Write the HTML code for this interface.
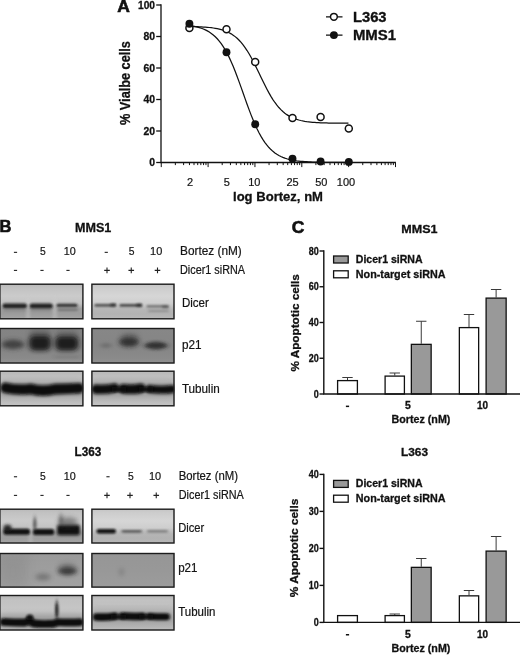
<!DOCTYPE html>
<html><head><meta charset="utf-8"><title>Figure</title>
<style>
html,body{margin:0;padding:0;background:#fff;}
body{width:520px;height:656px;overflow:hidden;}
svg{display:block;}
text{font-family:"Liberation Sans",sans-serif;fill:#111;}
.b{font-weight:bold;stroke:#111;stroke-width:.3px;}
.r{stroke:#222;stroke-width:.22px;}
.pl{font-weight:bold;stroke:#111;stroke-width:.6px;}
</style></head><body>
<svg width="520" height="656" viewBox="0 0 520 656">
<defs>
<filter id="bl1" x="-20%" y="-150%" width="140%" height="400%"><feGaussianBlur stdDeviation="1.2 0.9"/></filter>
<filter id="bl2" x="-30%" y="-100%" width="160%" height="300%"><feGaussianBlur stdDeviation="2.4 2.2"/></filter>
<filter id="bl3" x="-20%" y="-100%" width="140%" height="300%"><feGaussianBlur stdDeviation="1.6 1.4"/></filter>
<filter id="bl4" x="-30%" y="-30%" width="160%" height="160%"><feGaussianBlur stdDeviation="4"/></filter>
</defs>
<rect width="520" height="656" fill="#fff"/>

<g id="panelA">
<text x="117.3" y="12.4" font-size="17" class="pl" textLength="12.6" lengthAdjust="spacingAndGlyphs">A</text>
<path d="M161.0 4.3 V162.5 M160.4 162.5 H395.9" fill="none" stroke="#111" stroke-width="1.3"/>
<path d="M156.2 162.5 H161.0" stroke="#111" stroke-width="1.3"/>
<text x="149.2" y="166.3" font-size="11.3" class="b" textLength="5.8" lengthAdjust="spacingAndGlyphs">0</text>
<path d="M156.2 131 H161.0" stroke="#111" stroke-width="1.3"/>
<text x="143.4" y="134.8" font-size="11.3" class="b" textLength="11.6" lengthAdjust="spacingAndGlyphs">20</text>
<path d="M156.2 99.5 H161.0" stroke="#111" stroke-width="1.3"/>
<text x="143.4" y="103.3" font-size="11.3" class="b" textLength="11.6" lengthAdjust="spacingAndGlyphs">40</text>
<path d="M156.2 68 H161.0" stroke="#111" stroke-width="1.3"/>
<text x="143.4" y="71.8" font-size="11.3" class="b" textLength="11.6" lengthAdjust="spacingAndGlyphs">60</text>
<path d="M156.2 36.5 H161.0" stroke="#111" stroke-width="1.3"/>
<text x="143.4" y="40.3" font-size="11.3" class="b" textLength="11.6" lengthAdjust="spacingAndGlyphs">80</text>
<path d="M156.2 5 H161.0" stroke="#111" stroke-width="1.3"/>
<text x="138" y="8.8" font-size="11.3" class="b" textLength="17" lengthAdjust="spacingAndGlyphs">100</text>
<path d="M161.25 162.5 v4.6 M175.35 162.5 v2.6 M183.6 162.5 v2.6 M189.46 162.5 v2.6 M194 162.5 v2.6 M197.71 162.5 v2.6 M200.84 162.5 v2.6 M203.56 162.5 v2.6 M205.96 162.5 v2.6 M208.1 162.5 v4.6 M222.2 162.5 v2.6 M230.45 162.5 v2.6 M236.31 162.5 v2.6 M240.85 162.5 v2.6 M244.56 162.5 v2.6 M247.69 162.5 v2.6 M250.41 162.5 v2.6 M252.81 162.5 v2.6 M254.95 162.5 v4.6 M269.05 162.5 v2.6 M277.3 162.5 v2.6 M283.16 162.5 v2.6 M287.7 162.5 v2.6 M291.41 162.5 v2.6 M294.54 162.5 v2.6 M297.26 162.5 v2.6 M299.66 162.5 v2.6 M301.8 162.5 v4.6 M315.9 162.5 v2.6 M324.15 162.5 v2.6 M330.01 162.5 v2.6 M334.55 162.5 v2.6 M338.26 162.5 v2.6 M341.39 162.5 v2.6 M344.11 162.5 v2.6 M346.51 162.5 v2.6 M348.65 162.5 v4.6 M362.75 162.5 v2.6 M371 162.5 v2.6 M376.86 162.5 v2.6 M381.4 162.5 v2.6 M385.11 162.5 v2.6 M388.24 162.5 v2.6 M390.96 162.5 v2.6 M393.36 162.5 v2.6 M395.5 162.5 v4.6 " stroke="#111" stroke-width="1" fill="none"/>
<text x="190" y="185.8" font-size="11" class="r" text-anchor="middle">2</text>
<text x="226.75" y="185.8" font-size="11" class="r" text-anchor="middle">5</text>
<text x="254.25" y="185.8" font-size="11" class="r" text-anchor="middle">10</text>
<text x="292.5" y="185.8" font-size="11" class="r" text-anchor="middle">25</text>
<text x="321.3" y="185.8" font-size="11" class="r" text-anchor="middle">50</text>
<text x="346" y="185.8" font-size="11" class="r" text-anchor="middle">100</text>
<text x="233" y="201.25" font-size="13.3" class="b" textLength="90" lengthAdjust="spacingAndGlyphs">log Bortez, nM</text>
<text class="b" transform="translate(129.6,125) rotate(-90)" font-size="13.8" textLength="83.9" lengthAdjust="spacingAndGlyphs">% Vialbe cells</text>
<polyline points="189.43,26.49 191.41,26.53 193.4,26.58 195.39,26.64 197.38,26.71 199.37,26.79 201.35,26.89 203.34,27.01 205.33,27.14 207.32,27.31 209.3,27.5 211.29,27.73 213.28,28 215.27,28.31 217.26,28.69 219.24,29.12 221.23,29.64 223.22,30.24 225.21,30.95 227.19,31.78 229.18,32.74 231.17,33.85 233.16,35.14 235.15,36.62 237.13,38.31 239.12,40.24 241.11,42.41 243.1,44.85 245.08,47.56 247.07,50.54 249.06,53.79 251.05,57.28 253.04,61 255.02,64.9 257.01,68.94 259,73.06 260.99,77.21 262.97,81.32 264.96,85.34 266.95,89.22 268.94,92.9 270.93,96.35 272.91,99.55 274.9,102.48 276.89,105.14 278.88,107.53 280.86,109.66 282.85,111.55 284.84,113.2 286.83,114.65 288.82,115.9 290.8,116.99 292.79,117.92 294.78,118.73 296.77,119.41 298.76,120 300.74,120.5 302.73,120.93 304.72,121.29 306.71,121.6 308.69,121.86 310.68,122.08 312.67,122.27 314.66,122.43 316.65,122.56 318.63,122.67 320.62,122.77 322.61,122.85 324.6,122.92 326.58,122.97 328.57,123.02 330.56,123.06 332.55,123.1 334.54,123.13 336.52,123.15 338.51,123.17 340.5,123.19 342.49,123.2 344.47,123.22 346.46,123.23 348.45,123.24" fill="none" stroke="#111" stroke-width="1.25"/>
<polyline points="189.43,25.58 191.41,25.87 193.4,26.21 195.39,26.62 197.38,27.08 199.37,27.63 201.35,28.27 203.34,29.02 205.33,29.88 207.32,30.89 209.3,32.05 211.29,33.39 213.28,34.94 215.27,36.71 217.26,38.73 219.24,41.03 221.23,43.63 223.22,46.55 225.21,49.8 227.19,53.41 229.18,57.37 231.17,61.67 233.16,66.31 235.15,71.25 237.13,76.44 239.12,81.85 241.11,87.4 243.1,93.03 245.08,98.66 247.07,104.22 249.06,109.64 251.05,114.85 253.04,119.81 255.02,124.46 257.01,128.79 259,132.77 260.99,136.39 262.97,139.67 264.96,142.61 266.95,145.23 268.94,147.54 270.93,149.58 272.91,151.36 274.9,152.92 276.89,154.28 278.88,155.45 280.86,156.46 282.85,157.34 284.84,158.09 286.83,158.73 288.82,159.29 290.8,159.76 292.79,160.16 294.78,160.51 296.77,160.81 298.76,161.06 300.74,161.27 302.73,161.46 304.72,161.61 306.71,161.74 308.69,161.86 310.68,161.95 312.67,162.04 314.66,162.1 316.65,162.16 318.63,162.21 320.62,162.26 322.61,162.29 324.6,162.32 326.58,162.35 328.57,162.37 330.56,162.39 332.55,162.41 334.54,162.42 336.52,162.43 338.51,162.44 340.5,162.45 342.49,162.46 344.47,162.47 346.46,162.47 348.45,162.48" fill="none" stroke="#111" stroke-width="1.25"/>
<circle cx="189.4" cy="27.9" r="3.5" fill="#fff" stroke="#111" stroke-width="1.5"/>
<circle cx="226.5" cy="29.2" r="3.5" fill="#fff" stroke="#111" stroke-width="1.5"/>
<circle cx="255.2" cy="61.9" r="3.5" fill="#fff" stroke="#111" stroke-width="1.5"/>
<circle cx="292.5" cy="117.9" r="3.5" fill="#fff" stroke="#111" stroke-width="1.5"/>
<circle cx="320.6" cy="116.9" r="3.5" fill="#fff" stroke="#111" stroke-width="1.5"/>
<circle cx="348.8" cy="128.5" r="3.5" fill="#fff" stroke="#111" stroke-width="1.5"/>
<circle cx="189.4" cy="23.8" r="3.95" fill="#111"/>
<circle cx="226.5" cy="52.3" r="3.95" fill="#111"/>
<circle cx="255.2" cy="124.3" r="3.95" fill="#111"/>
<circle cx="292.5" cy="158.7" r="3.95" fill="#111"/>
<circle cx="320.6" cy="161.5" r="3.95" fill="#111"/>
<circle cx="348.8" cy="161.9" r="3.95" fill="#111"/>
<path d="M326 16.8 H342.5 M326 35.1 H342.5" stroke="#111" stroke-width="1.3"/>
<circle cx="333.9" cy="16.8" r="3.4" fill="#fff" stroke="#111" stroke-width="1.5"/>
<circle cx="333.9" cy="35.1" r="3.95" fill="#111"/>
<text x="352.9" y="21.7" font-size="14.5" class="b" textLength="33.7" lengthAdjust="spacingAndGlyphs">L363</text>
<text x="352.9" y="39.9" font-size="14.5" class="b" textLength="43.2" lengthAdjust="spacingAndGlyphs">MMS1</text>
</g>
<g id="panelB">
<text x="-0.5" y="232" font-size="16.5" class="pl">B</text>
<text x="75" y="232" font-size="12.5" class="b" textLength="36.25" lengthAdjust="spacingAndGlyphs">MMS1</text>
<text x="74.5" y="456.25" font-size="12.5" class="b" textLength="26.75" lengthAdjust="spacingAndGlyphs">L363</text>
<rect x="13.9" y="251.8" width="3.2" height="1.1" fill="#222"/>
<text x="40.02" y="255.4" font-size="11.6" class="r" textLength="5.75" lengthAdjust="spacingAndGlyphs">5</text>
<text x="63.75" y="255.4" font-size="11.6" class="r" textLength="12" lengthAdjust="spacingAndGlyphs">10</text>
<rect x="104.65" y="251.8" width="3.2" height="1.1" fill="#222"/>
<text x="128.72" y="255.4" font-size="11.6" class="r" textLength="5.75" lengthAdjust="spacingAndGlyphs">5</text>
<text x="150.1" y="255.4" font-size="11.6" class="r" textLength="12.2" lengthAdjust="spacingAndGlyphs">10</text>
<text x="180" y="255.4" font-size="12" class="r" textLength="61.75" lengthAdjust="spacingAndGlyphs">Bortez (nM)</text>
<rect x="13.9" y="269.85" width="3.2" height="1.1" fill="#222"/>
<rect x="40.4" y="269.85" width="3.2" height="1.1" fill="#222"/>
<rect x="66.4" y="269.85" width="3.2" height="1.1" fill="#222"/>
<path d="M104.2 270.35 h5.6 M107 267.55 v5.6" stroke="#222" stroke-width="1.1" fill="none"/>
<path d="M128.45 270.35 h5.6 M131.25 267.55 v5.6" stroke="#222" stroke-width="1.1" fill="none"/>
<path d="M154.7 270.35 h5.6 M157.5 267.55 v5.6" stroke="#222" stroke-width="1.1" fill="none"/>
<text x="180" y="273.75" font-size="12" class="r" textLength="65" lengthAdjust="spacingAndGlyphs">Dicer1 siRNA</text>
<rect x="13.9" y="476.2" width="3.2" height="1.1" fill="#222"/>
<text x="40.02" y="479.8" font-size="11.6" class="r" textLength="5.75" lengthAdjust="spacingAndGlyphs">5</text>
<text x="63.75" y="479.8" font-size="11.6" class="r" textLength="12" lengthAdjust="spacingAndGlyphs">10</text>
<rect x="106.4" y="476.2" width="3.2" height="1.1" fill="#222"/>
<text x="128.03" y="479.8" font-size="11.6" class="r" textLength="5.75" lengthAdjust="spacingAndGlyphs">5</text>
<text x="148.9" y="479.8" font-size="11.6" class="r" textLength="12.2" lengthAdjust="spacingAndGlyphs">10</text>
<text x="178.75" y="479.8" font-size="12" class="r" textLength="59.25" lengthAdjust="spacingAndGlyphs">Bortez (nM)</text>
<rect x="13.9" y="494.85" width="3.2" height="1.1" fill="#222"/>
<rect x="40.4" y="494.85" width="3.2" height="1.1" fill="#222"/>
<rect x="66.4" y="494.85" width="3.2" height="1.1" fill="#222"/>
<path d="M104.2 495.35 h5.6 M107 492.55 v5.6" stroke="#222" stroke-width="1.1" fill="none"/>
<path d="M127.2 495.35 h5.6 M130 492.55 v5.6" stroke="#222" stroke-width="1.1" fill="none"/>
<path d="M153.45 495.35 h5.6 M156.25 492.55 v5.6" stroke="#222" stroke-width="1.1" fill="none"/>
<text x="178.75" y="498.75" font-size="12" class="r" textLength="65" lengthAdjust="spacingAndGlyphs">Dicer1 siRNA</text>
<text x="181.9" y="306.6" font-size="12" class="r" textLength="26.9" lengthAdjust="spacingAndGlyphs">Dicer</text>
<text x="181.9" y="348.7" font-size="12" class="r" textLength="19.6" lengthAdjust="spacingAndGlyphs">p21</text>
<text x="181.9" y="392.7" font-size="12" class="r" textLength="37.9" lengthAdjust="spacingAndGlyphs">Tubulin</text>
<text x="178.2" y="531.6" font-size="12" class="r" textLength="26" lengthAdjust="spacingAndGlyphs">Dicer</text>
<text x="178.2" y="572.3" font-size="12" class="r" textLength="19.3" lengthAdjust="spacingAndGlyphs">p21</text>
<text x="178.2" y="616.2" font-size="12" class="r" textLength="37.2" lengthAdjust="spacingAndGlyphs">Tubulin</text>
</g>
<defs><filter id="f1" filterUnits="userSpaceOnUse" x="-20" y="260" width="230" height="400"><feGaussianBlur stdDeviation="1.5 3"/></filter>
<filter id="f2" filterUnits="userSpaceOnUse" x="-20" y="260" width="230" height="400"><feGaussianBlur stdDeviation="1.3 1"/></filter>
<filter id="f3" filterUnits="userSpaceOnUse" x="-20" y="260" width="230" height="400"><feGaussianBlur stdDeviation="1.2 0.9"/></filter>
<filter id="f4" filterUnits="userSpaceOnUse" x="-20" y="260" width="230" height="400"><feGaussianBlur stdDeviation="1.4 0.9"/></filter>
<filter id="f5" filterUnits="userSpaceOnUse" x="-20" y="260" width="230" height="400"><feGaussianBlur stdDeviation="1.5 1"/></filter>
<clipPath id="c1"><rect x="-0.6" y="283.7" width="84" height="35.6"/></clipPath>
<linearGradient id="g1" x1="0" y1="0" x2="0" y2="1"><stop offset="0" stop-color="#b8b8b8"/><stop offset="0.12" stop-color="#c2c2c2"/><stop offset="0.35" stop-color="#cbcbcb"/><stop offset="0.55" stop-color="#c2c2c2"/><stop offset="0.7" stop-color="#a0a0a0"/><stop offset="0.85" stop-color="#9c9c9c"/><stop offset="1" stop-color="#a6a6a6"/></linearGradient>
<filter id="f6" filterUnits="userSpaceOnUse" x="-20" y="260" width="230" height="400"><feGaussianBlur stdDeviation="1.3 0.9"/></filter>
<clipPath id="c2"><rect x="91.4" y="283.7" width="83.1" height="35.6"/></clipPath>
<linearGradient id="g2" x1="0" y1="0" x2="0" y2="1"><stop offset="0" stop-color="#c4c4c4"/><stop offset="0.12" stop-color="#cdcdcd"/><stop offset="0.35" stop-color="#d6d6d6"/><stop offset="0.55" stop-color="#cecece"/><stop offset="0.72" stop-color="#b6b6b6"/><stop offset="0.85" stop-color="#b2b2b2"/><stop offset="1" stop-color="#b8b8b8"/></linearGradient>
<filter id="f7" filterUnits="userSpaceOnUse" x="-20" y="260" width="230" height="400"><feGaussianBlur stdDeviation="2.2 2"/></filter>
<filter id="f8" filterUnits="userSpaceOnUse" x="-20" y="260" width="230" height="400"><feGaussianBlur stdDeviation="2.5 3"/></filter>
<filter id="f9" filterUnits="userSpaceOnUse" x="-20" y="260" width="230" height="400"><feGaussianBlur stdDeviation="2.5 2.3"/></filter>
<filter id="f10" filterUnits="userSpaceOnUse" x="-20" y="260" width="230" height="400"><feGaussianBlur stdDeviation="2 1"/></filter>
<clipPath id="c3"><rect x="-0.6" y="328" width="84" height="35.5"/></clipPath>
<linearGradient id="g3" x1="0" y1="0" x2="0" y2="1"><stop offset="0" stop-color="#848484"/><stop offset="0.5" stop-color="#828282"/><stop offset="0.85" stop-color="#8a8a8a"/><stop offset="1" stop-color="#949494"/></linearGradient>
<filter id="f11" filterUnits="userSpaceOnUse" x="-20" y="260" width="230" height="400"><feGaussianBlur stdDeviation="2 1.8"/></filter>
<filter id="f12" filterUnits="userSpaceOnUse" x="-20" y="260" width="230" height="400"><feGaussianBlur stdDeviation="2.4 2.1"/></filter>
<filter id="f13" filterUnits="userSpaceOnUse" x="-20" y="260" width="230" height="400"><feGaussianBlur stdDeviation="2.5 2.5"/></filter>
<filter id="f14" filterUnits="userSpaceOnUse" x="-20" y="260" width="230" height="400"><feGaussianBlur stdDeviation="2.4 1.8"/></filter>
<clipPath id="c4"><rect x="91.4" y="328" width="83.1" height="35.5"/></clipPath>
<linearGradient id="g4" x1="0" y1="0" x2="0" y2="1"><stop offset="0" stop-color="#878787"/><stop offset="0.5" stop-color="#858585"/><stop offset="0.85" stop-color="#8a8a8a"/><stop offset="1" stop-color="#929292"/></linearGradient>
<filter id="f15" filterUnits="userSpaceOnUse" x="-20" y="260" width="230" height="400"><feGaussianBlur stdDeviation="3 3"/></filter>
<filter id="f16" filterUnits="userSpaceOnUse" x="-20" y="260" width="230" height="400"><feGaussianBlur stdDeviation="1.6 1.5"/></filter>
<clipPath id="c5"><rect x="-0.6" y="370.7" width="84" height="35.6"/></clipPath>
<linearGradient id="g5" x1="0" y1="0" x2="0" y2="1"><stop offset="0" stop-color="#b6b6b6"/><stop offset="0.15" stop-color="#c2c2c2"/><stop offset="0.3" stop-color="#c4c4c4"/><stop offset="0.7" stop-color="#b2b2b2"/><stop offset="0.9" stop-color="#c0c0c0"/><stop offset="1" stop-color="#c2c2c2"/></linearGradient>
<filter id="f17" filterUnits="userSpaceOnUse" x="-20" y="260" width="230" height="400"><feGaussianBlur stdDeviation="1.5 1.3"/></filter>
<clipPath id="c6"><rect x="91.4" y="370.7" width="83.1" height="35.6"/></clipPath>
<linearGradient id="g6" x1="0" y1="0" x2="0" y2="1"><stop offset="0" stop-color="#b6b6b6"/><stop offset="0.15" stop-color="#c2c2c2"/><stop offset="0.3" stop-color="#c4c4c4"/><stop offset="0.7" stop-color="#b2b2b2"/><stop offset="0.9" stop-color="#c0c0c0"/><stop offset="1" stop-color="#c2c2c2"/></linearGradient>
<filter id="f18" filterUnits="userSpaceOnUse" x="-20" y="260" width="230" height="400"><feGaussianBlur stdDeviation="1.3 1.1"/></filter>
<filter id="f19" filterUnits="userSpaceOnUse" x="-20" y="260" width="230" height="400"><feGaussianBlur stdDeviation="1.5 1.5"/></filter>
<filter id="f20" filterUnits="userSpaceOnUse" x="-20" y="260" width="230" height="400"><feGaussianBlur stdDeviation="1.3 2.5"/></filter>
<filter id="f21" filterUnits="userSpaceOnUse" x="-20" y="260" width="230" height="400"><feGaussianBlur stdDeviation="1.5 2.5"/></filter>
<clipPath id="c7"><rect x="-0.6" y="508.7" width="84" height="34.8"/></clipPath>
<linearGradient id="g7" x1="0" y1="0" x2="0" y2="1"><stop offset="0" stop-color="#b8b8b8"/><stop offset="0.12" stop-color="#c2c2c2"/><stop offset="0.35" stop-color="#cbcbcb"/><stop offset="0.55" stop-color="#c2c2c2"/><stop offset="0.7" stop-color="#a0a0a0"/><stop offset="0.85" stop-color="#9c9c9c"/><stop offset="1" stop-color="#a6a6a6"/></linearGradient>
<clipPath id="c8"><rect x="91.4" y="508.7" width="83.1" height="34.8"/></clipPath>
<linearGradient id="g8" x1="0" y1="0" x2="0" y2="1"><stop offset="0" stop-color="#c4c4c4"/><stop offset="0.12" stop-color="#cdcdcd"/><stop offset="0.35" stop-color="#d6d6d6"/><stop offset="0.55" stop-color="#cecece"/><stop offset="0.72" stop-color="#b6b6b6"/><stop offset="0.85" stop-color="#b2b2b2"/><stop offset="1" stop-color="#b8b8b8"/></linearGradient>
<filter id="f22" filterUnits="userSpaceOnUse" x="-20" y="260" width="230" height="400"><feGaussianBlur stdDeviation="6 6"/></filter>
<filter id="f23" filterUnits="userSpaceOnUse" x="-20" y="260" width="230" height="400"><feGaussianBlur stdDeviation="2.4 2"/></filter>
<clipPath id="c9"><rect x="-0.6" y="553" width="84" height="34.6"/></clipPath>
<linearGradient id="g9" x1="0" y1="0" x2="0" y2="1"><stop offset="0" stop-color="#9a9a9a"/><stop offset="0.5" stop-color="#9e9e9e"/><stop offset="1" stop-color="#a2a2a2"/></linearGradient>
<filter id="f24" filterUnits="userSpaceOnUse" x="-20" y="260" width="230" height="400"><feGaussianBlur stdDeviation="2 2"/></filter>
<clipPath id="c10"><rect x="91.4" y="553" width="83.1" height="34.6"/></clipPath>
<linearGradient id="g10" x1="0" y1="0" x2="0" y2="1"><stop offset="0" stop-color="#969696"/><stop offset="0.5" stop-color="#989898"/><stop offset="1" stop-color="#9c9c9c"/></linearGradient>
<filter id="f25" filterUnits="userSpaceOnUse" x="-20" y="260" width="230" height="400"><feGaussianBlur stdDeviation="1.3 1.3"/></filter>
<filter id="f26" filterUnits="userSpaceOnUse" x="-20" y="260" width="230" height="400"><feGaussianBlur stdDeviation="1.2 2.5"/></filter>
<clipPath id="c11"><rect x="-0.6" y="595" width="84" height="35.5"/></clipPath>
<linearGradient id="g11" x1="0" y1="0" x2="0" y2="1"><stop offset="0" stop-color="#b4b4b4"/><stop offset="0.15" stop-color="#c2c2c2"/><stop offset="0.45" stop-color="#c6c6c6"/><stop offset="0.65" stop-color="#b0b0b0"/><stop offset="0.9" stop-color="#b4b4b4"/><stop offset="1" stop-color="#c0c0c0"/></linearGradient>
<clipPath id="c12"><rect x="91.4" y="595" width="83.1" height="35.5"/></clipPath>
<linearGradient id="g12" x1="0" y1="0" x2="0" y2="1"><stop offset="0" stop-color="#b6b6b6"/><stop offset="0.15" stop-color="#c2c2c2"/><stop offset="0.4" stop-color="#c6c6c6"/><stop offset="0.75" stop-color="#b4b4b4"/><stop offset="1" stop-color="#bcbcbc"/></linearGradient></defs>
<g id="blots">
<g clip-path="url(#c1)"><rect x="-0.6" y="283.7" width="84" height="35.6" fill="url(#g1)"/>
<rect x="26" y="300" width="4" height="22" fill="#d8d8d8" opacity="0.35" filter="url(#f1)"/>
<rect x="52.5" y="300" width="4.5" height="22" fill="#d8d8d8" opacity="0.35" filter="url(#f1)"/>
<rect x="2.5" y="303.6" width="24.5" height="4.6" rx="2.3" fill="#141414" opacity="0.92" filter="url(#f2)"/>
<rect x="29.6" y="303.4" width="23.2" height="5" rx="2.5" fill="#141414" opacity="0.92" filter="url(#f2)"/>
<rect x="56.5" y="303.8" width="21" height="3.2" rx="1.6" fill="#1a1a1a" opacity="0.85" filter="url(#f3)"/>
<rect x="57.5" y="308.7" width="20.5" height="2.2" rx="1.1" fill="#444" opacity="0.5" filter="url(#f4)"/>
<rect x="3" y="309.5" width="24" height="2" rx="1" fill="#555" opacity="0.3" filter="url(#f5)"/>
<rect x="30" y="309.5" width="22" height="2" rx="1" fill="#555" opacity="0.3" filter="url(#f5)"/>
</g>
<rect x="-0.1" y="284.2" width="83" height="34.6" fill="none" stroke="#1c1c1c" stroke-width="1.4"/>
<g clip-path="url(#c2)"><rect x="91.4" y="283.7" width="83.1" height="35.6" fill="url(#g2)"/>
<rect x="94.5" y="303.9" width="21.5" height="2.6" rx="1.3" fill="#1a1a1a" opacity="0.75" filter="url(#f6)"/>
<rect x="110" y="303.2" width="6.3" height="3.4" rx="1.7" fill="#111" opacity="0.5" filter="url(#f3)"/>
<rect x="119.5" y="304.1" width="22.5" height="2.6" rx="1.3" fill="#1a1a1a" opacity="0.75" filter="url(#f6)"/>
<rect x="136" y="303.4" width="6.3" height="3.4" rx="1.7" fill="#111" opacity="0.5" filter="url(#f3)"/>
<rect x="146.5" y="305.3" width="22" height="2.2" rx="1.1" fill="#333" opacity="0.6" filter="url(#f6)"/>
<rect x="162" y="305.4" width="7" height="2.8" rx="1.4" fill="#222" opacity="0.4" filter="url(#f3)"/>
<rect x="148" y="310" width="21" height="2" rx="1" fill="#555" opacity="0.4" filter="url(#f4)"/>
</g>
<rect x="91.9" y="284.2" width="82.1" height="34.6" fill="none" stroke="#1c1c1c" stroke-width="1.4"/>
<g clip-path="url(#c3)"><rect x="-0.6" y="328" width="84" height="35.5" fill="url(#g3)"/>
<ellipse cx="13" cy="344.5" rx="11.5" ry="4.4" fill="#2a2a2a" opacity="0.75" filter="url(#f7)"/>
<rect x="29.5" y="330" width="21" height="18" rx="5" fill="#333" opacity="0.4" filter="url(#f8)"/>
<rect x="29.5" y="336" width="21" height="14.5" rx="5" fill="#141414" opacity="0.9" filter="url(#f9)"/>
<rect x="56" y="331" width="22" height="17" rx="5" fill="#333" opacity="0.35" filter="url(#f8)"/>
<rect x="55.5" y="336.5" width="22.5" height="14" rx="5" fill="#141414" opacity="0.9" filter="url(#f9)"/>
<rect x="55" y="356" width="24" height="2" rx="1" fill="#555" opacity="0.25" filter="url(#f10)"/>
</g>
<rect x="-0.1" y="328.5" width="83" height="34.5" fill="none" stroke="#1c1c1c" stroke-width="1.4"/>
<g clip-path="url(#c4)"><rect x="91.4" y="328" width="83.1" height="35.5" fill="url(#g4)"/>
<ellipse cx="106" cy="345.5" rx="5.5" ry="2.5" fill="#555" opacity="0.45" filter="url(#f11)"/>
<ellipse cx="129" cy="342" rx="10" ry="4.8" fill="#1a1a1a" opacity="0.8" filter="url(#f12)"/>
<ellipse cx="129.5" cy="337" rx="9" ry="4" fill="#333" opacity="0.3" filter="url(#f13)"/>
<ellipse cx="156" cy="345.6" rx="11.5" ry="3.8" fill="#1a1a1a" opacity="0.78" filter="url(#f14)"/>
</g>
<rect x="91.9" y="328.5" width="82.1" height="34.5" fill="none" stroke="#1c1c1c" stroke-width="1.4"/>
<g clip-path="url(#c5)"><rect x="-0.6" y="370.7" width="84" height="35.6" fill="url(#g5)"/>
<rect x="0" y="380" width="84" height="16" fill="#777" opacity="0.35" filter="url(#f15)"/>
<path d="M5.5 387.8 Q17 390.4 30.5 388.9 Q43 392.3 55 389.1 Q68 388.8 79 388.2" fill="none" stroke="#0a0a0a" stroke-width="10.6" stroke-linecap="round" stroke-linejoin="round" opacity="1" filter="url(#f16)"/>
</g>
<rect x="-0.1" y="371.2" width="83" height="34.6" fill="none" stroke="#1c1c1c" stroke-width="1.4"/>
<g clip-path="url(#c6)"><rect x="91.4" y="370.7" width="83.1" height="35.6" fill="url(#g6)"/>
<rect x="91" y="380" width="84" height="16" fill="#777" opacity="0.35" filter="url(#f15)"/>
<path d="M96 389.3 Q106 389.8 114.5 388" fill="none" stroke="#0a0a0a" stroke-width="9.4" stroke-linecap="round" stroke-linejoin="round" opacity="1" filter="url(#f16)"/>
<path d="M123 388.8 Q132 390 141 388.2" fill="none" stroke="#0a0a0a" stroke-width="9.6" stroke-linecap="round" stroke-linejoin="round" opacity="1" filter="url(#f16)"/>
<path d="M150 389 Q160 390.4 172 389.2" fill="none" stroke="#0a0a0a" stroke-width="8.2" stroke-linecap="round" stroke-linejoin="round" opacity="1" filter="url(#f16)"/>
<path d="M114 389.5 L124 389.5 M141 389.5 L151 389.5" fill="none" stroke="#111" stroke-width="5" stroke-linecap="round" stroke-linejoin="round" opacity="0.85" filter="url(#f17)"/>
</g>
<rect x="91.9" y="371.2" width="82.1" height="34.6" fill="none" stroke="#1c1c1c" stroke-width="1.4"/>
<g clip-path="url(#c7)"><rect x="-0.6" y="508.7" width="84" height="34.8" fill="url(#g7)"/>
<rect x="28.5" y="526" width="4" height="20" fill="#d8d8d8" opacity="0.3" filter="url(#f1)"/>
<rect x="3.5" y="528.8" width="26.5" height="6" rx="2.5" fill="#0c0c0c" opacity="0.97" filter="url(#f18)"/>
<ellipse cx="7.5" cy="528" rx="4.2" ry="3.6" fill="#151515" opacity="0.85" filter="url(#f19)"/>
<rect x="33" y="528.9" width="21.2" height="6.2" rx="2.5" fill="#0c0c0c" opacity="0.97" filter="url(#f18)"/>
<ellipse cx="34.8" cy="524" rx="2" ry="7" fill="#2a2a2a" opacity="0.6" filter="url(#f20)"/>
<rect x="57" y="524.75" width="23" height="10.5" rx="2.5" fill="#0c0c0c" opacity="0.97" filter="url(#f16)"/>
<ellipse cx="68" cy="522" rx="10" ry="4.5" fill="#333" opacity="0.5" filter="url(#f13)"/>
<ellipse cx="61" cy="520" rx="2.5" ry="6" fill="#333" opacity="0.4" filter="url(#f21)"/>
</g>
<rect x="-0.1" y="509.2" width="83" height="33.8" fill="none" stroke="#1c1c1c" stroke-width="1.4"/>
<g clip-path="url(#c8)"><rect x="91.4" y="508.7" width="83.1" height="34.8" fill="url(#g8)"/>
<rect x="96.5" y="529.1" width="19.5" height="4.4" rx="2.2" fill="#0c0c0c" opacity="0.97" filter="url(#f2)"/>
<rect x="121.5" y="529.9" width="20.5" height="2.8" rx="1.4" fill="#333" opacity="0.72" filter="url(#f4)"/>
<rect x="147" y="530.1" width="21" height="2.4" rx="1.2" fill="#444" opacity="0.55" filter="url(#f4)"/>
</g>
<rect x="91.9" y="509.2" width="82.1" height="33.8" fill="none" stroke="#1c1c1c" stroke-width="1.4"/>
<g clip-path="url(#c9)"><rect x="-0.6" y="553" width="84" height="34.6" fill="url(#g9)"/>
<rect x="-2" y="553" width="30" height="36" fill="#777" opacity="0.25" filter="url(#f22)"/>
<ellipse cx="43" cy="577" rx="7.5" ry="3.5" fill="#444" opacity="0.45" filter="url(#f23)"/>
<ellipse cx="67.5" cy="571" rx="9.5" ry="4" fill="#222" opacity="0.82" filter="url(#f23)"/>
<ellipse cx="67" cy="567" rx="9" ry="4" fill="#444" opacity="0.3" filter="url(#f13)"/>
</g>
<rect x="-0.1" y="553.5" width="83" height="33.6" fill="none" stroke="#1c1c1c" stroke-width="1.4"/>
<g clip-path="url(#c10)"><rect x="91.4" y="553" width="83.1" height="34.6" fill="url(#g10)"/>
<ellipse cx="121.5" cy="572" rx="2.5" ry="4" fill="#555" opacity="0.3" filter="url(#f24)"/>
</g>
<rect x="91.9" y="553.5" width="82.1" height="33.6" fill="none" stroke="#1c1c1c" stroke-width="1.4"/>
<g clip-path="url(#c11)"><rect x="-0.6" y="595" width="84" height="35.5" fill="url(#g11)"/>
<rect x="0" y="615" width="84" height="14" fill="#777" opacity="0.35" filter="url(#f15)"/>
<path d="M3.5 622 Q14 622.6 25 622.6 Q30 620 33 623.4 Q44 624.6 54 623.6 Q57 622 60 622.3 Q70 622.8 80 622.3" fill="none" stroke="#0a0a0a" stroke-width="7.6" stroke-linecap="round" stroke-linejoin="round" opacity="1" filter="url(#f17)"/>
<ellipse cx="29.8" cy="617.6" rx="3.6" ry="3.2" fill="#0a0a0a" opacity="0.95" filter="url(#f25)"/>
<ellipse cx="56.8" cy="610" rx="1.8" ry="9" fill="#151515" opacity="0.9" filter="url(#f26)"/>
</g>
<rect x="-0.1" y="595.5" width="83" height="34.5" fill="none" stroke="#1c1c1c" stroke-width="1.4"/>
<g clip-path="url(#c12)"><rect x="91.4" y="595" width="83.1" height="35.5" fill="url(#g12)"/>
<rect x="91" y="608" width="84" height="16" fill="#777" opacity="0.3" filter="url(#f15)"/>
<path d="M96.5 617 Q106 617.4 114.5 616.2" fill="none" stroke="#0a0a0a" stroke-width="7.6" stroke-linecap="round" stroke-linejoin="round" opacity="1" filter="url(#f17)"/>
<path d="M122.5 616 Q132 616.8 142.5 616.2" fill="none" stroke="#0a0a0a" stroke-width="7.6" stroke-linecap="round" stroke-linejoin="round" opacity="1" filter="url(#f17)"/>
<path d="M149.5 616.2 Q158 617 166.5 616.8" fill="none" stroke="#0a0a0a" stroke-width="7" stroke-linecap="round" stroke-linejoin="round" opacity="1" filter="url(#f17)"/>
<path d="M113 617 L124 617 M141 617 L151 617" fill="none" stroke="#111" stroke-width="4.4" stroke-linecap="round" stroke-linejoin="round" opacity="0.85" filter="url(#f17)"/>
</g>
<rect x="91.9" y="595.5" width="82.1" height="34.5" fill="none" stroke="#1c1c1c" stroke-width="1.4"/>
</g>
<g id="panelC">
<text x="291.8" y="232.6" font-size="17" class="pl" textLength="12.6" lengthAdjust="spacingAndGlyphs">C</text>
<text x="401.25" y="232.5" font-size="11.5" class="b" textLength="36.25" lengthAdjust="spacingAndGlyphs">MMS1</text>
<path d="M347.5 380 V377.5 M342.3 377.5 H352.7" stroke="#3a3a3a" stroke-width="1" fill="none"/>
<rect x="337.6" y="380.6" width="19.8" height="13.4" fill="#fff" stroke="#111" stroke-width="1.3"/>
<path d="M394.75 375.5 V373 M389.55 373 H399.95" stroke="#3a3a3a" stroke-width="1" fill="none"/>
<rect x="385.1" y="376.1" width="19.3" height="17.9" fill="#fff" stroke="#111" stroke-width="1.3"/>
<path d="M421.25 343.75 V321.25 M416.05 321.25 H426.45" stroke="#3a3a3a" stroke-width="1" fill="none"/>
<rect x="411.35" y="344.35" width="19.8" height="49.65" fill="#999" stroke="#111" stroke-width="1.3"/>
<path d="M469 327 V314.5 M463.8 314.5 H474.2" stroke="#3a3a3a" stroke-width="1" fill="none"/>
<rect x="459.35" y="327.6" width="19.3" height="66.4" fill="#fff" stroke="#111" stroke-width="1.3"/>
<path d="M496.12 297.5 V289.5 M490.93 289.5 H501.32" stroke="#3a3a3a" stroke-width="1" fill="none"/>
<rect x="486.1" y="298.1" width="20.05" height="95.9" fill="#999" stroke="#111" stroke-width="1.3"/>
<path d="M323.8 250.3 V394 M323.1 394 H520" fill="none" stroke="#111" stroke-width="1.4"/>
<path d="M319.5 394 H323.8" stroke="#111" stroke-width="1.4"/>
<text x="313.8" y="397.5" font-size="10" class="b" textLength="5" lengthAdjust="spacingAndGlyphs">0</text>
<path d="M319.5 358.25 H323.8" stroke="#111" stroke-width="1.4"/>
<text x="308.8" y="361.75" font-size="10" class="b" textLength="10" lengthAdjust="spacingAndGlyphs">20</text>
<path d="M319.5 322.5 H323.8" stroke="#111" stroke-width="1.4"/>
<text x="308.8" y="326" font-size="10" class="b" textLength="10" lengthAdjust="spacingAndGlyphs">40</text>
<path d="M319.5 286.75 H323.8" stroke="#111" stroke-width="1.4"/>
<text x="308.8" y="290.25" font-size="10" class="b" textLength="10" lengthAdjust="spacingAndGlyphs">60</text>
<path d="M319.5 251 H323.8" stroke="#111" stroke-width="1.4"/>
<text x="308.8" y="254.5" font-size="10" class="b" textLength="10" lengthAdjust="spacingAndGlyphs">80</text>
<rect x="345.9" y="405.6" width="3.2" height="1.5" fill="#111"/>
<text x="404.9" y="409.3" font-size="10.3" class="b" textLength="5.8" lengthAdjust="spacingAndGlyphs">5</text>
<text x="476.9" y="409.3" font-size="10.3" class="b" textLength="11.1" lengthAdjust="spacingAndGlyphs">10</text>
<text x="391.5" y="423.2" font-size="11" class="b" textLength="58.9" lengthAdjust="spacingAndGlyphs">Bortez (nM)</text>
<text class="b" transform="translate(299.3,371.55) rotate(-90)" font-size="10.6" textLength="97.3" lengthAdjust="spacingAndGlyphs">% Apoptotic cells</text>
<rect x="333.6" y="256" width="14.6" height="7" fill="#999" stroke="#111" stroke-width="1.3"/>
<rect x="333.6" y="270.8" width="14.6" height="7" fill="#fff" stroke="#111" stroke-width="1.3"/>
<text x="355.8" y="263" font-size="11" class="b" textLength="66.8" lengthAdjust="spacingAndGlyphs">Dicer1 siRNA</text>
<text x="355.8" y="277.7" font-size="11" class="b" textLength="89.8" lengthAdjust="spacingAndGlyphs">Non-target siRNA</text>
<text x="401" y="456.3" font-size="11.5" class="b" textLength="27" lengthAdjust="spacingAndGlyphs">L363</text>
<rect x="337.6" y="615.6" width="19.8" height="6.8" fill="#fff" stroke="#111" stroke-width="1.3"/>
<path d="M394.75 615 V614 M389.55 614 H399.95" stroke="#3a3a3a" stroke-width="1" fill="none"/>
<rect x="385.1" y="615.6" width="19.3" height="6.8" fill="#fff" stroke="#111" stroke-width="1.3"/>
<path d="M421.25 566.75 V558.5 M416.05 558.5 H426.45" stroke="#3a3a3a" stroke-width="1" fill="none"/>
<rect x="411.35" y="567.35" width="19.8" height="55.05" fill="#999" stroke="#111" stroke-width="1.3"/>
<path d="M469 595.25 V590.5 M463.8 590.5 H474.2" stroke="#3a3a3a" stroke-width="1" fill="none"/>
<rect x="459.35" y="595.85" width="19.3" height="26.55" fill="#fff" stroke="#111" stroke-width="1.3"/>
<path d="M496.12 550.5 V536.5 M490.93 536.5 H501.32" stroke="#3a3a3a" stroke-width="1" fill="none"/>
<rect x="486.1" y="551.1" width="20.05" height="71.3" fill="#999" stroke="#111" stroke-width="1.3"/>
<path d="M323.8 473.7 V622.4 M323.1 622.4 H520" fill="none" stroke="#111" stroke-width="1.4"/>
<path d="M319.5 622.4 H323.8" stroke="#111" stroke-width="1.4"/>
<text x="313.8" y="625.9" font-size="10" class="b" textLength="5" lengthAdjust="spacingAndGlyphs">0</text>
<path d="M319.5 585.4 H323.8" stroke="#111" stroke-width="1.4"/>
<text x="308.8" y="588.9" font-size="10" class="b" textLength="10" lengthAdjust="spacingAndGlyphs">10</text>
<path d="M319.5 548.4 H323.8" stroke="#111" stroke-width="1.4"/>
<text x="308.8" y="551.9" font-size="10" class="b" textLength="10" lengthAdjust="spacingAndGlyphs">20</text>
<path d="M319.5 511.4 H323.8" stroke="#111" stroke-width="1.4"/>
<text x="308.8" y="514.9" font-size="10" class="b" textLength="10" lengthAdjust="spacingAndGlyphs">30</text>
<path d="M319.5 474.4 H323.8" stroke="#111" stroke-width="1.4"/>
<text x="308.8" y="477.9" font-size="10" class="b" textLength="10" lengthAdjust="spacingAndGlyphs">40</text>
<rect x="345.9" y="634" width="3.2" height="1.5" fill="#111"/>
<text x="404.9" y="637.7" font-size="10.3" class="b" textLength="5.8" lengthAdjust="spacingAndGlyphs">5</text>
<text x="476.9" y="637.7" font-size="10.3" class="b" textLength="11.1" lengthAdjust="spacingAndGlyphs">10</text>
<text x="391.5" y="651.6" font-size="11" class="b" textLength="58.9" lengthAdjust="spacingAndGlyphs">Bortez (nM)</text>
<text class="b" transform="translate(297.6,597.3) rotate(-90)" font-size="10.6" textLength="98.6" lengthAdjust="spacingAndGlyphs">% Apoptotic cells</text>
<rect x="333.6" y="480.4" width="14.6" height="7" fill="#999" stroke="#111" stroke-width="1.3"/>
<rect x="333.6" y="495.2" width="14.6" height="7" fill="#fff" stroke="#111" stroke-width="1.3"/>
<text x="355.8" y="487.4" font-size="11" class="b" textLength="66.8" lengthAdjust="spacingAndGlyphs">Dicer1 siRNA</text>
<text x="355.8" y="502.1" font-size="11" class="b" textLength="89.8" lengthAdjust="spacingAndGlyphs">Non-target siRNA</text>
</g>
</svg></body></html>
